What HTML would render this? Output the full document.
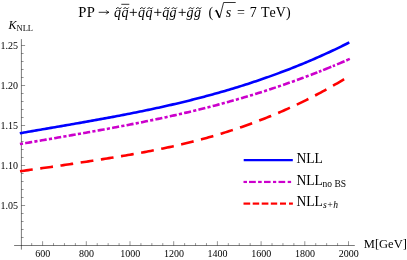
<!DOCTYPE html>
<html><head><meta charset="utf-8"><title>K NLL plot</title>
<style>
html,body{margin:0;padding:0;background:#fff;}
body{width:407px;height:260px;overflow:hidden;font-family:"Liberation Serif",serif;}
svg{display:block;will-change:transform;transform:translateZ(0);} text{font-kerning:none;}
</style></head><body>
<svg width="407" height="260" viewBox="0 0 407 260">
<rect width="407" height="260" fill="#fff"/>
<g stroke="#000" stroke-width="0.52" fill="none">
<line x1="21.4" y1="39.1" x2="21.4" y2="249.6"/>
<line x1="14.1" y1="245.5" x2="354.8" y2="245.5"/>
</g>
<g stroke="#000" stroke-width="0.42" fill="none">
<line x1="21.4" y1="237.50" x2="23.60" y2="237.50"/>
<line x1="21.4" y1="229.50" x2="23.60" y2="229.50"/>
<line x1="21.4" y1="221.50" x2="23.60" y2="221.50"/>
<line x1="21.4" y1="213.50" x2="23.60" y2="213.50"/>
<line x1="21.4" y1="205.50" x2="25.10" y2="205.50"/>
<line x1="21.4" y1="197.50" x2="23.60" y2="197.50"/>
<line x1="21.4" y1="189.50" x2="23.60" y2="189.50"/>
<line x1="21.4" y1="181.50" x2="23.60" y2="181.50"/>
<line x1="21.4" y1="173.50" x2="23.60" y2="173.50"/>
<line x1="21.4" y1="165.50" x2="25.10" y2="165.50"/>
<line x1="21.4" y1="157.50" x2="23.60" y2="157.50"/>
<line x1="21.4" y1="149.50" x2="23.60" y2="149.50"/>
<line x1="21.4" y1="141.50" x2="23.60" y2="141.50"/>
<line x1="21.4" y1="133.50" x2="23.60" y2="133.50"/>
<line x1="21.4" y1="125.50" x2="25.10" y2="125.50"/>
<line x1="21.4" y1="117.50" x2="23.60" y2="117.50"/>
<line x1="21.4" y1="109.50" x2="23.60" y2="109.50"/>
<line x1="21.4" y1="101.50" x2="23.60" y2="101.50"/>
<line x1="21.4" y1="93.50" x2="23.60" y2="93.50"/>
<line x1="21.4" y1="85.50" x2="25.10" y2="85.50"/>
<line x1="21.4" y1="77.50" x2="23.60" y2="77.50"/>
<line x1="21.4" y1="69.50" x2="23.60" y2="69.50"/>
<line x1="21.4" y1="61.50" x2="23.60" y2="61.50"/>
<line x1="21.4" y1="53.50" x2="23.60" y2="53.50"/>
<line x1="21.4" y1="45.50" x2="25.10" y2="45.50"/>
<line x1="31.68" y1="245.5" x2="31.68" y2="243.10"/>
<line x1="42.60" y1="245.5" x2="42.60" y2="241.20"/>
<line x1="53.52" y1="245.5" x2="53.52" y2="243.10"/>
<line x1="64.45" y1="245.5" x2="64.45" y2="243.10"/>
<line x1="75.38" y1="245.5" x2="75.38" y2="243.10"/>
<line x1="86.30" y1="245.5" x2="86.30" y2="241.20"/>
<line x1="97.22" y1="245.5" x2="97.22" y2="243.10"/>
<line x1="108.15" y1="245.5" x2="108.15" y2="243.10"/>
<line x1="119.08" y1="245.5" x2="119.08" y2="243.10"/>
<line x1="130.00" y1="245.5" x2="130.00" y2="241.20"/>
<line x1="140.93" y1="245.5" x2="140.93" y2="243.10"/>
<line x1="151.85" y1="245.5" x2="151.85" y2="243.10"/>
<line x1="162.78" y1="245.5" x2="162.78" y2="243.10"/>
<line x1="173.70" y1="245.5" x2="173.70" y2="241.20"/>
<line x1="184.62" y1="245.5" x2="184.62" y2="243.10"/>
<line x1="195.55" y1="245.5" x2="195.55" y2="243.10"/>
<line x1="206.47" y1="245.5" x2="206.47" y2="243.10"/>
<line x1="217.40" y1="245.5" x2="217.40" y2="241.20"/>
<line x1="228.32" y1="245.5" x2="228.32" y2="243.10"/>
<line x1="239.25" y1="245.5" x2="239.25" y2="243.10"/>
<line x1="250.18" y1="245.5" x2="250.18" y2="243.10"/>
<line x1="261.10" y1="245.5" x2="261.10" y2="241.20"/>
<line x1="272.02" y1="245.5" x2="272.02" y2="243.10"/>
<line x1="282.95" y1="245.5" x2="282.95" y2="243.10"/>
<line x1="293.88" y1="245.5" x2="293.88" y2="243.10"/>
<line x1="304.80" y1="245.5" x2="304.80" y2="241.20"/>
<line x1="315.73" y1="245.5" x2="315.73" y2="243.10"/>
<line x1="326.65" y1="245.5" x2="326.65" y2="243.10"/>
<line x1="337.57" y1="245.5" x2="337.57" y2="243.10"/>
<line x1="348.50" y1="245.5" x2="348.50" y2="241.20"/>
</g>
<g font-family="Liberation Serif, serif" font-size="10" fill="#000">
<text x="17.9" y="209.00" text-anchor="end">1.05</text>
<text x="17.9" y="169.00" text-anchor="end">1.10</text>
<text x="17.9" y="129.00" text-anchor="end">1.15</text>
<text x="17.9" y="89.00" text-anchor="end">1.20</text>
<text x="17.9" y="49.00" text-anchor="end">1.25</text>
<text x="42.80" y="257.45" text-anchor="middle">600</text>
<text x="86.50" y="257.45" text-anchor="middle">800</text>
<text x="130.20" y="257.45" text-anchor="middle">1000</text>
<text x="173.90" y="257.45" text-anchor="middle">1200</text>
<text x="217.60" y="257.45" text-anchor="middle">1400</text>
<text x="261.30" y="257.45" text-anchor="middle">1600</text>
<text x="305.00" y="257.45" text-anchor="middle">1800</text>
<text x="348.70" y="257.45" text-anchor="middle">2000</text>
</g>
<path d="M19.80,133.29 L21.87,132.92 L23.94,132.56 L26.02,132.20 L28.09,131.84 L30.16,131.48 L32.23,131.11 L34.31,130.76 L36.38,130.40 L38.45,130.04 L40.52,129.68 L42.60,129.32 L44.67,128.96 L46.74,128.60 L48.81,128.25 L50.88,127.89 L52.96,127.53 L55.03,127.17 L57.10,126.82 L59.17,126.46 L61.25,126.10 L63.32,125.74 L65.39,125.38 L67.46,125.02 L69.54,124.66 L71.61,124.30 L73.68,123.94 L75.75,123.58 L77.83,123.21 L79.90,122.85 L81.97,122.48 L84.04,122.12 L86.11,121.75 L88.19,121.38 L90.26,121.01 L92.33,120.64 L94.40,120.27 L96.48,119.90 L98.55,119.52 L100.62,119.15 L102.69,118.77 L104.77,118.39 L106.84,118.01 L108.91,117.62 L110.98,117.24 L113.05,116.85 L115.13,116.46 L117.20,116.07 L119.27,115.67 L121.34,115.28 L123.42,114.88 L125.49,114.48 L127.56,114.07 L129.63,113.67 L131.71,113.26 L133.78,112.84 L135.85,112.43 L137.92,112.01 L139.99,111.59 L142.07,111.17 L144.14,110.74 L146.21,110.31 L148.28,109.87 L150.36,109.44 L152.43,109.00 L154.50,108.55 L156.57,108.10 L158.65,107.65 L160.72,107.20 L162.79,106.74 L164.86,106.28 L166.94,105.81 L169.01,105.34 L171.08,104.86 L173.15,104.38 L175.22,103.90 L177.30,103.41 L179.37,102.92 L181.44,102.42 L183.51,101.92 L185.59,101.42 L187.66,100.91 L189.73,100.39 L191.80,99.87 L193.88,99.35 L195.95,98.82 L198.02,98.29 L200.09,97.75 L202.16,97.21 L204.24,96.66 L206.31,96.10 L208.38,95.54 L210.45,94.98 L212.53,94.41 L214.60,93.84 L216.67,93.26 L218.74,92.67 L220.82,92.08 L222.89,91.49 L224.96,90.88 L227.03,90.28 L229.11,89.66 L231.18,89.05 L233.25,88.42 L235.32,87.79 L237.39,87.16 L239.47,86.51 L241.54,85.87 L243.61,85.21 L245.68,84.55 L247.76,83.89 L249.83,83.21 L251.90,82.53 L253.97,81.85 L256.05,81.16 L258.12,80.46 L260.19,79.76 L262.26,79.05 L264.33,78.33 L266.41,77.60 L268.48,76.87 L270.55,76.14 L272.62,75.39 L274.70,74.64 L276.77,73.88 L278.84,73.12 L280.91,72.34 L282.99,71.56 L285.06,70.78 L287.13,69.98 L289.20,69.18 L291.27,68.37 L293.35,67.56 L295.42,66.73 L297.49,65.90 L299.56,65.06 L301.64,64.21 L303.71,63.36 L305.78,62.50 L307.85,61.62 L309.93,60.75 L312.00,59.86 L314.07,58.96 L316.14,58.06 L318.22,57.15 L320.29,56.23 L322.36,55.30 L324.43,54.36 L326.50,53.42 L328.58,52.46 L330.65,51.50 L332.72,50.53 L334.79,49.55 L336.87,48.56 L338.94,47.56 L341.01,46.55 L343.08,45.53 L345.16,44.51 L347.23,43.47 L349.30,42.43" fill="none" stroke="#0000ff" stroke-width="2.6"/>
<path d="M19.90,144.09 L21.90,143.75 L23.91,143.41 L25.91,143.06 L27.91,142.72 L29.92,142.38 L31.92,142.04 L33.92,141.69 L35.93,141.35 L37.93,141.01 L39.93,140.66 L41.94,140.32 L43.94,139.98 L45.94,139.63 L47.95,139.29 L49.95,138.95 L51.95,138.60 L53.96,138.26 L55.96,137.91 L57.96,137.57 L59.97,137.22 L61.97,136.87 L63.97,136.53 L65.98,136.18 L67.98,135.83 L69.98,135.48 L71.99,135.13 L73.99,134.78 L75.99,134.43 L78.00,134.08 L80.00,133.73 L82.00,133.37 L84.01,133.02 L86.01,132.66 L88.01,132.31 L90.02,131.95 L92.02,131.59 L94.02,131.23 L96.03,130.87 L98.03,130.51 L100.03,130.15 L102.04,129.78 L104.04,129.42 L106.04,129.05 L108.05,128.68 L110.05,128.31 L112.05,127.94 L114.06,127.57 L116.06,127.19 L118.06,126.82 L120.07,126.44 L122.07,126.06 L124.07,125.68 L126.08,125.30 L128.08,124.91 L130.08,124.52 L132.09,124.13 L134.09,123.74 L136.09,123.35 L138.10,122.95 L140.10,122.56 L142.10,122.16 L144.11,121.75 L146.11,121.35 L148.11,120.94 L150.12,120.53 L152.12,120.12 L154.12,119.70 L156.13,119.28 L158.13,118.86 L160.13,118.44 L162.14,118.01 L164.14,117.58 L166.14,117.15 L168.15,116.71 L170.15,116.27 L172.16,115.83 L174.16,115.38 L176.16,114.93 L178.17,114.48 L180.17,114.02 L182.17,113.56 L184.18,113.10 L186.18,112.63 L188.18,112.16 L190.19,111.69 L192.19,111.21 L194.19,110.72 L196.20,110.24 L198.20,109.75 L200.20,109.25 L202.21,108.75 L204.21,108.25 L206.21,107.74 L208.22,107.23 L210.22,106.72 L212.22,106.20 L214.23,105.68 L216.23,105.15 L218.23,104.62 L220.24,104.08 L222.24,103.54 L224.24,102.99 L226.25,102.44 L228.25,101.89 L230.25,101.33 L232.26,100.77 L234.26,100.20 L236.26,99.63 L238.27,99.05 L240.27,98.47 L242.27,97.89 L244.28,97.30 L246.28,96.70 L248.28,96.10 L250.29,95.50 L252.29,94.89 L254.29,94.28 L256.30,93.66 L258.30,93.03 L260.30,92.41 L262.31,91.77 L264.31,91.14 L266.31,90.50 L268.32,89.85 L270.32,89.20 L272.32,88.54 L274.33,87.88 L276.33,87.21 L278.33,86.54 L280.34,85.86 L282.34,85.18 L284.34,84.49 L286.35,83.80 L288.35,83.10 L290.35,82.40 L292.36,81.69 L294.36,80.98 L296.36,80.26 L298.37,79.53 L300.37,78.80 L302.37,78.07 L304.38,77.32 L306.38,76.58 L308.38,75.82 L310.39,75.07 L312.39,74.30 L314.39,73.53 L316.40,72.76 L318.40,71.97" fill="none" stroke="#cc00cc" stroke-width="2.6" stroke-dasharray="3.16 2.22 7.1 2.226"/>
<path d="M318.90,71.78 L320.15,71.29 L321.40,70.79 M323.10,70.12 L325.83,69.02 L328.57,67.91 L331.30,66.79 M332.80,66.17 L333.90,65.72 L335.00,65.26 M337.00,64.42 L339.52,63.36 L342.03,62.29 L344.55,61.20 M346.30,60.44 L348.05,59.68 L349.80,58.91" fill="none" stroke="#cc00cc" stroke-width="2.6"/>
<path d="M20.00,171.27 L22.07,170.97 L24.15,170.68 L26.22,170.38 L28.29,170.09 L30.37,169.80 L32.44,169.51 L34.52,169.23 L36.59,168.94 L38.66,168.65 L40.74,168.37 L42.81,168.08 L44.88,167.79 L46.96,167.50 L49.03,167.21 L51.10,166.92 L53.18,166.63 L55.25,166.33 L57.32,166.04 L59.40,165.74 L61.47,165.44 L63.55,165.13 L65.62,164.83 L67.69,164.52 L69.77,164.21 L71.84,163.90 L73.91,163.59 L75.99,163.28 L78.06,162.96 L80.13,162.65 L82.21,162.33 L84.28,162.02 L86.35,161.70 L88.43,161.38 L90.50,161.06 L92.58,160.74 L94.65,160.42 L96.72,160.10 L98.80,159.78 L100.87,159.46 L102.94,159.14 L105.02,158.81 L107.09,158.48 L109.16,158.15 L111.24,157.82 L113.31,157.49 L115.38,157.15 L117.46,156.82 L119.53,156.48 L121.61,156.13 L123.68,155.79 L125.75,155.44 L127.83,155.08 L129.90,154.73 L131.97,154.37 L134.05,154.00 L136.12,153.64 L138.19,153.27 L140.27,152.89 L142.34,152.51 L144.42,152.13 L146.49,151.74 L148.56,151.34 L150.64,150.95 L152.71,150.54 L154.78,150.13 L156.86,149.72 L158.93,149.30 L161.00,148.88 L163.08,148.45 L165.15,148.01 L167.22,147.57 L169.30,147.12 L171.37,146.67 L173.45,146.21 L175.52,145.74 L177.59,145.27 L179.67,144.79 L181.74,144.30 L183.81,143.81 L185.89,143.31 L187.96,142.80 L190.03,142.29 L192.11,141.76 L194.18,141.23 L196.25,140.70 L198.33,140.15 L200.40,139.60 L202.48,139.04 L204.55,138.48 L206.62,137.90 L208.70,137.32 L210.77,136.73 L212.84,136.13 L214.92,135.52 L216.99,134.91 L219.06,134.29 L221.14,133.66 L223.21,133.02 L225.28,132.37 L227.36,131.72 L229.43,131.06 L231.51,130.38 L233.58,129.70 L235.65,129.02 L237.73,128.32 L239.80,127.61 L241.87,126.90 L243.95,126.18 L246.02,125.45 L248.09,124.71 L250.17,123.96 L252.24,123.20 L254.32,122.43 L256.39,121.65 L258.46,120.87 L260.54,120.07 L262.61,119.27 L264.68,118.46 L266.76,117.63 L268.83,116.80 L270.90,115.96 L272.98,115.11 L275.05,114.24 L277.12,113.37 L279.20,112.49 L281.27,111.60 L283.35,110.69 L285.42,109.78 L287.49,108.86 L289.57,107.92 L291.64,106.98 L293.71,106.02 L295.79,105.06 L297.86,104.08 L299.93,103.09 L302.01,102.09 L304.08,101.08 L306.15,100.06 L308.23,99.02 L310.30,97.98 L312.38,96.92 L314.45,95.85 L316.52,94.77 L318.60,93.67 L320.67,92.57 L322.74,91.45 L324.82,90.32 L326.89,89.17 L328.96,88.02 L331.04,86.85 L333.11,85.67 L335.18,84.47 L337.26,83.27 L339.33,82.05 L341.41,80.81 L343.48,79.56 L345.55,78.30 L347.63,77.03 L349.70,75.74" fill="none" stroke="#ff0000" stroke-width="2.6" stroke-dasharray="12.85 7.577"/>
<line x1="243.7" y1="160.2" x2="292.8" y2="160.2" stroke="#0000ff" stroke-width="2.2"/>
<line x1="243.5" y1="181.95" x2="247.0" y2="181.95" stroke="#cc00cc" stroke-width="2.2"/>
<line x1="249.0" y1="181.95" x2="255.8" y2="181.95" stroke="#cc00cc" stroke-width="2.2"/>
<line x1="258.1" y1="181.95" x2="261.7" y2="181.95" stroke="#cc00cc" stroke-width="2.2"/>
<line x1="264.0" y1="181.95" x2="270.6" y2="181.95" stroke="#cc00cc" stroke-width="2.2"/>
<line x1="273.0" y1="181.95" x2="276.2" y2="181.95" stroke="#cc00cc" stroke-width="2.2"/>
<line x1="278.5" y1="181.95" x2="285.2" y2="181.95" stroke="#cc00cc" stroke-width="2.2"/>
<line x1="287.7" y1="181.95" x2="291.1" y2="181.95" stroke="#cc00cc" stroke-width="2.2"/>
<line x1="243.5" y1="203.6" x2="250.2" y2="203.6" stroke="#ff0000" stroke-width="2.2"/>
<line x1="252.7" y1="203.6" x2="259.2" y2="203.6" stroke="#ff0000" stroke-width="2.2"/>
<line x1="261.7" y1="203.6" x2="268.4" y2="203.6" stroke="#ff0000" stroke-width="2.2"/>
<line x1="270.8" y1="203.6" x2="277.2" y2="203.6" stroke="#ff0000" stroke-width="2.2"/>
<line x1="280.0" y1="203.6" x2="286.0" y2="203.6" stroke="#ff0000" stroke-width="2.2"/>
<line x1="289.0" y1="203.6" x2="292.9" y2="203.6" stroke="#ff0000" stroke-width="2.2"/>
<g font-family="Liberation Serif, serif" fill="#000">
<text x="296.4" y="162.7" font-size="13.6">NLL</text>
<text x="296.4" y="184.7" font-size="13.6">NLL</text>
<text x="322.6" y="186.5" font-size="9.5">no BS</text>
<text x="296.4" y="206.4" font-size="13.6">NLL</text>
<text x="323.0" y="207.9" font-size="9.6" font-style="italic">s+h</text>
<text x="363.8" y="248.1" font-size="12.5">M[GeV]</text>
<text x="8.5" y="28.8" font-size="12"><tspan font-style="italic">K</tspan><tspan font-size="8.5" dy="2.2">NLL</tspan></text>
<text x="78.3" y="16.5" font-size="14.6">P</text>
<text x="86.7" y="16.5" font-size="14.6">P</text>
<path d="M98.7,12.3 H108.6 M106.2,10.3 C106.8,11.4 107.6,12.0 109.0,12.3 C107.6,12.6 106.8,13.2 106.2,14.3" fill="none" stroke="#000" stroke-width="0.8"/>
<text x="114.0" y="16.5" font-size="14" font-style="italic">q</text>
<text x="121.4" y="16.5" font-size="14" font-style="italic">q</text>
<text x="138.0" y="16.5" font-size="14" font-style="italic">q</text>
<text x="145.4" y="16.5" font-size="14" font-style="italic">q</text>
<text x="162.2" y="16.5" font-size="14" font-style="italic">q</text>
<text x="169.6" y="16.5" font-size="14" font-style="italic">g</text>
<text x="186.6" y="16.5" font-size="14" font-style="italic">g</text>
<text x="194.0" y="16.5" font-size="14" font-style="italic">g</text>
<path d="M129.70,12.4 H136.90 M133.30,8.8 V16.0" fill="none" stroke="#000" stroke-width="0.85"/>
<path d="M154.20,12.4 H161.40 M157.80,8.8 V16.0" fill="none" stroke="#000" stroke-width="0.85"/>
<path d="M178.60,12.4 H185.80 M182.20,8.8 V16.0" fill="none" stroke="#000" stroke-width="0.85"/>
<path d="M116.20,8.90 C117.12,7.30 118.14,7.50 118.75,8.20 S120.38,9.10 121.30,7.50" fill="none" stroke="#000" stroke-width="0.95"/>
<path d="M123.60,8.90 C124.52,7.30 125.54,7.50 126.15,8.20 S127.78,9.10 128.70,7.50" fill="none" stroke="#000" stroke-width="0.95"/>
<path d="M140.20,8.90 C141.12,7.30 142.14,7.50 142.75,8.20 S144.38,9.10 145.30,7.50" fill="none" stroke="#000" stroke-width="0.95"/>
<path d="M147.60,8.90 C148.52,7.30 149.54,7.50 150.15,8.20 S151.78,9.10 152.70,7.50" fill="none" stroke="#000" stroke-width="0.95"/>
<path d="M164.40,8.90 C165.32,7.30 166.34,7.50 166.95,8.20 S168.58,9.10 169.50,7.50" fill="none" stroke="#000" stroke-width="0.95"/>
<path d="M171.80,8.90 C172.72,7.30 173.74,7.50 174.35,8.20 S175.98,9.10 176.90,7.50" fill="none" stroke="#000" stroke-width="0.95"/>
<path d="M188.80,8.90 C189.72,7.30 190.74,7.50 191.35,8.20 S192.98,9.10 193.90,7.50" fill="none" stroke="#000" stroke-width="0.95"/>
<path d="M196.20,8.90 C197.12,7.30 198.14,7.50 198.75,8.20 S200.38,9.10 201.30,7.50" fill="none" stroke="#000" stroke-width="0.95"/>
<line x1="121.3" y1="4.3" x2="129.3" y2="4.3" stroke="#000" stroke-width="0.8"/>
<text x="208.5" y="16.5" font-size="14">(</text>
<path d="M214.8,11.4 L216.4,10.2 L219.7,17.6 L223.6,2.5 H235.7" fill="none" stroke="#000" stroke-width="0.8" stroke-linejoin="miter"/>
<path d="M216.2,10.3 L219.5,17.6" fill="none" stroke="#000" stroke-width="1.5"/>
<text x="225.8" y="16.5" font-size="14" font-style="italic">s</text>
<text x="236.9" y="16.5" font-size="14">=</text>
<text x="249.7" y="16.5" font-size="14">7</text>
<text x="261.0" y="16.5" font-size="14">TeV)</text>
</g>
</svg>
</body></html>
